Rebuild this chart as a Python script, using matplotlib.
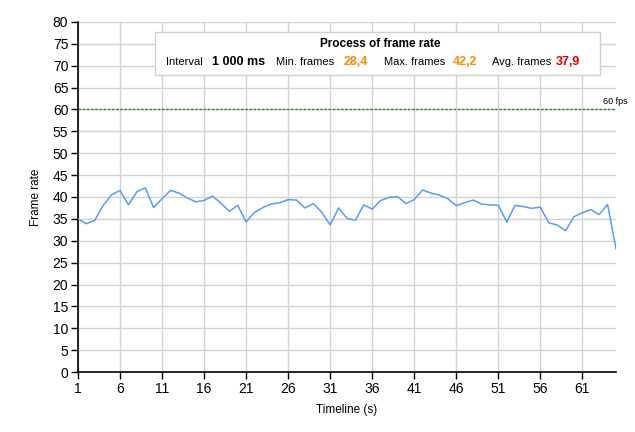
import matplotlib
matplotlib.use("Agg")
import matplotlib.pyplot as plt
from matplotlib.patches import Rectangle

timeline = list(range(1, 66))
frame_rate = [35.0, 33.9, 34.7, 38.1, 40.5, 41.5, 38.2, 41.2, 42.1, 37.6,
              39.6, 41.5, 40.9, 39.8, 38.9, 39.2, 40.2, 38.6, 36.7, 38.1,
              34.3, 36.5, 37.6, 38.4, 38.7, 39.4, 39.3, 37.5, 38.5, 36.5,
              33.6, 37.5, 35.1, 34.7, 38.2, 37.2, 39.2, 39.9, 40.1, 38.5,
              39.4, 41.6, 40.9, 40.4, 39.6, 38.0, 38.7, 39.3, 38.4, 38.2,
              38.1, 34.3, 38.1, 37.8, 37.4, 37.7, 34.1, 33.6, 32.3, 35.5,
              36.4, 37.1, 36.0, 38.3, 28.2]
x_ticks = list(range(1, 62, 5))
y_ticks = list(range(0, 81, 5))
target_fps = 60
target_label = "60 fps"
title = "Process of frame rate"
stats_labels = ["Interval", "Min. frames", "Max. frames", "Avg. frames"]
stats_values = ["1 000 ms", "28,4", "42,2", "37,9"]
stats_colors = ["black", "#ff8c00", "#ff8c00", "#e00000"]

plt.rcParams['font.family'] = ['Liberation Sans', 'DejaVu Sans']

W, H = 635, 432
fig = plt.figure(figsize=(W / 100, H / 100), dpi=100)
ax = fig.add_axes([78 / W, 60 / H, (616 - 78) / W, (372 - 22) / H])

ax.plot(timeline, frame_rate, color='#5b9bf5', lw=1.1, zorder=3)
ax.axhline(target_fps, color='#2e8b2e', lw=1.0, ls=(0, (2, 1)), zorder=3)
ax.text(63.4, target_fps + 0.8, target_label, fontsize=6.5, ha='left', va='bottom',
        color='black', clip_on=False)

ax.set_xlim(1, 65)
ax.set_ylim(0, 80)
ax.set_xticks(x_ticks)
ax.set_yticks(y_ticks)
ax.grid(True, color='#d3d3d3', lw=1.0, zorder=0)
ax.set_axisbelow(True)
for s in ['top', 'right']:
    ax.spines[s].set_visible(False)
for s in ['left', 'bottom']:
    ax.spines[s].set_color('black')
    ax.spines[s].set_linewidth(1.2)
ax.tick_params(axis='both', direction='out', length=5, width=1, color='black',
               labelsize=10, pad=2)
ax.set_xlabel("Timeline (s)", fontsize=8.5, labelpad=6)
ax.set_ylabel("Frame rate", fontsize=8.5, labelpad=8)

def fx(px):
    return px / W

def fy(py):
    return 1 - py / H

box = Rectangle((fx(155), fy(75)), fx(600) - fx(155), fy(32) - fy(75),
                transform=fig.transFigure, facecolor='white', edgecolor='#d0d0d0',
                lw=1.0, zorder=5)
fig.patches.append(box)
fig.text(fx(380), fy(44), title, fontsize=8.5, fontweight='bold', ha='center',
         va='center', zorder=6)
label_x = [166, 276, 384, 492]
value_x = [212, 344, 453, 556]
for lx, vx, lab, val, col in zip(label_x, value_x, stats_labels, stats_values, stats_colors):
    fig.text(fx(lx), fy(62), lab, fontsize=8, ha='left', va='center', zorder=6)
    fig.text(fx(vx), fy(62), val, fontsize=9, fontweight='bold', color=col,
             ha='left', va='center', zorder=6)

fig.savefig("out.png", dpi=100)
